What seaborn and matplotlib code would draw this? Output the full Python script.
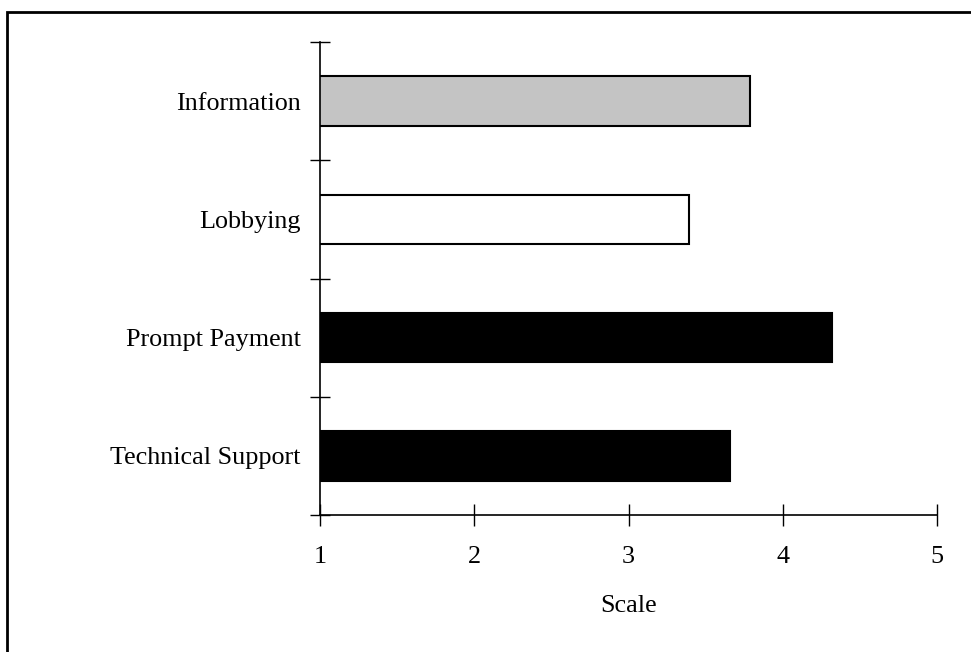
import matplotlib.pyplot as plt
import matplotlib.patches as mpatches
import seaborn as sns
import pandas as pd

categorii = ['Information', 'Lobbying', 'Prompt Payment', 'Technical Support']
valori = [3.79, 3.39, 4.32, 3.66]
culori = ['#c4c4c4', '#ffffff', '#000000', '#000000']
ticks_x = [1, 2, 3, 4, 5]

df = pd.DataFrame({'Categorie': categorii, 'Scor': valori})

sns.set_theme(style='white')
plt.rcParams['font.family'] = ['Liberation Serif', 'DejaVu Serif']
plt.rcParams['text.color'] = 'black'
plt.rcParams['xtick.color'] = 'black'
plt.rcParams['ytick.color'] = 'black'
plt.rcParams['axes.labelcolor'] = 'black'

fs = 18.8

fig = plt.figure(figsize=(9.71, 6.52), dpi=100)
ax = fig.add_axes([0.3296, 0.2101, 0.6354, 0.7255])

sns.barplot(data=df, x='Scor', y='Categorie', hue='Categorie', palette=culori,
            legend=False, orient='h', width=0.42, edgecolor='black',
            linewidth=1.5, ax=ax)

ax.set_xlim(1, 5)
ax.set_ylim(3.5, -0.5)
ax.set_xticks(ticks_x)
ax.set_xticklabels([str(t) for t in ticks_x], fontsize=fs)
ax.set_xlabel('Scale', fontsize=fs, labelpad=20)
ax.set_ylabel('')

# etichete pe centre (minor), tick-uri pe margini (major)
ax.set_yticks([-0.5, 0.5, 1.5, 2.5, 3.5])
ax.set_yticklabels([])
ax.set_yticks(range(len(categorii)), minor=True)
ax.set_yticklabels(categorii, minor=True, fontsize=fs)
ax.tick_params(axis='y', which='major', direction='inout', length=14, width=1, left=True)
ax.tick_params(axis='y', which='minor', length=0, pad=14)
ax.tick_params(axis='x', direction='inout', length=16, width=1, pad=14, bottom=True)

sns.despine(ax=ax)
for s in ['left', 'bottom']:
    ax.spines[s].set_color('black')
    ax.spines[s].set_linewidth(1.2)

# chenarul din jurul figurii
chenar = mpatches.Rectangle((7 / 971, -0.05), 1.05, 1 - 12 / 652 + 0.05,
                            transform=fig.transFigure, fill=False,
                            edgecolor='black', linewidth=2, clip_on=False)
fig.patches.append(chenar)

plt.savefig('out.png', dpi=100)
plt.close()
